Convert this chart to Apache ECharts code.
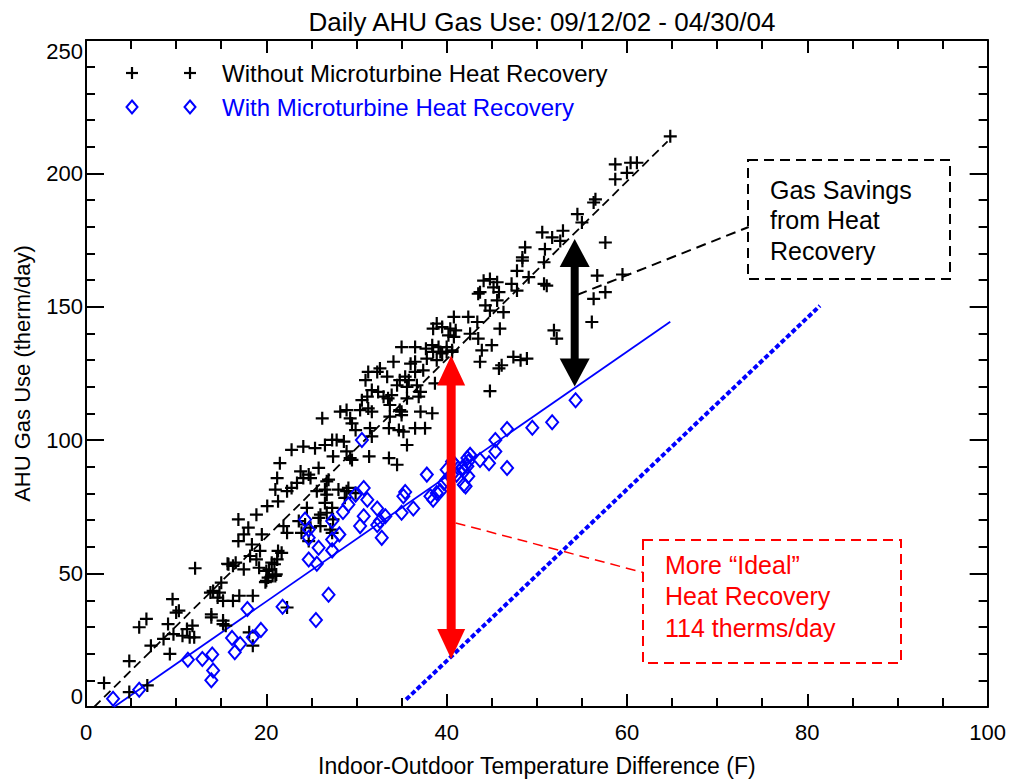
<!DOCTYPE html>
<html><head><meta charset="utf-8">
<script src="https://cdn.jsdelivr.net/npm/echarts@6/dist/echarts.min.js"></script>
<style>html,body{margin:0;padding:0;background:#fff}#c{width:1009px;height:782px}</style>
</head><body><div id="c"></div>
<script>
const titleText = 'Daily AHU Gas Use: 09/12/02 - 04/30/04';
const xName = 'Indoor-Outdoor Temperature Difference (F)';
const yName = 'AHU Gas Use (therm/day)';
const seriesNames = ['Without Microturbine Heat Recovery', 'With Microturbine Heat Recovery'];

const withoutHR = [
[2.0,9.0],[4.8,5.6],[6.8,8.1],[4.8,17.2],[5.9,29.9],[6.7,33.0],[7.2,23.0],[8.6,25.5],[9.1,31.1],[9.3,19.9],[9.6,40.4],[10.0,35.4],[10.3,36.1],[9.7,27.3],[10.7,26.7],[11.5,26.1],[12.0,26.1],[11.8,30.5],[11.2,29.2],[12.1,52.0],
[13.8,42.9],[14.1,43.5],[14.8,42.9],[14.6,41.0],[15.2,39.8],[16.3,39.8],[17.0,41.7],[18.5,41.7],[15.0,46.6],[15.7,53.7],[16.6,54.1],[13.9,34.7],[13.9,33.6],[15.2,31.1],[15.5,30.5],[18.1,28.0],[18.5,23.0],[15.2,32.4],
[15.8,53.5],[16.3,52.9],[17.5,51.6],[19.2,52.2],[20.0,51.0],[20.3,51.6],[20.9,53.5],[20.2,48.5],[21.1,49.7],[20.0,47.3],[20.7,49.1],[19.9,46.8],[21.0,49.1],
[18.2,56.6],[18.9,55.3],[21.2,55.3],[20.6,54.1],[18.4,60.9],[19.3,58.5],[21.3,58.5],[21.7,57.8],[17.5,64.7],[16.9,62.2],[19.5,64.7],[18.0,67.2],[16.9,70.3],[18.9,72.1],[20.1,75.3],[21.3,77.1],[21.9,67.8],[22.3,65.3],[22.3,37.3],
[23.9,65.3],[24.9,67.2],[26.0,67.8],[24.7,62.2],[23.6,69.7],[25.8,70.9],[26.7,72.8],[27.4,70.3],[24.5,74.6],[26.5,76.5],[28.7,78.4],[21.0,81.5],[22.3,80.9],[25.6,80.9],[26.5,81.5],[28.0,81.5],[28.9,80.9],[29.9,80.2],[21.2,85.8],[24.1,85.8],[23.4,84.0],[22.8,82.1],[26.7,84.6],[26.9,85.2],[23.8,88.3],[25.8,89.6],[24.7,87.1],[21.5,91.4],[27.4,93.9],[29.5,92.6],[22.8,96.4],[24.1,97.6],[25.4,97.0],[26.5,98.2],[27.3,100.1],[27.8,100.1],[28.6,99.5],[28.9,95.8],[29.3,93.3],
[24.9,85.8],[26.7,79.6],[27.3,74.6],[26.0,72.1],[24.3,68.4],[27.1,66.5],[27.3,65.3],[29.1,82.1],
[30.6,115.0],[31.3,111.9],[31.7,110.7],[30.4,111.3],[28.2,110.7],[26.2,108.2],[28.9,111.3],[29.3,108.2],[29.5,106.3],[29.9,103.8],[31.5,104.5],[31.7,101.4],[33.6,104.5],[34.7,103.8],[36.5,104.5],[37.6,104.5],[35.6,98.2],[31.4,93.9],[33.6,93.3],[34.5,90.8],
[31.7,118.8],[32.4,118.1],[31.2,116.3],[33.0,116.3],[33.5,115.7],[33.9,116.9],[35.6,115.7],[36.9,116.3],[37.1,118.1],[33.7,113.2],[34.8,111.3],[35.0,109.4],[33.7,108.8],[37.1,110.7],[38.4,110.1],[35.0,110.7],[35.2,103.2],
[34.8,122.5],[35.4,123.8],[35.8,122.5],[34.5,120.6],[35.6,120.0],[36.7,120.6],[38.7,121.3],[32.6,126.9],[32.3,125.6],[31.3,125.6],[33.4,123.8],[31.0,122.5],[34.1,129.4],[36.0,128.7],[36.5,129.4],[37.4,126.2],[36.5,125.6],
[37.8,130.6],[38.5,133.1],[39.3,133.1],[40.0,133.1],[40.6,133.1],[38.9,130.0],[35.0,134.9],[36.5,134.9],[37.7,134.3],[38.4,135.6],[39.1,134.9],[40.0,134.9],[40.6,133.7],[39.5,132.5],
[38.9,143.7],[38.5,141.8],[39.5,142.4],[40.4,141.8],[41.0,141.2],[40.2,139.3],[40.8,138.7],[40.8,146.2],[42.4,146.2],[43.4,144.3],[42.6,139.9],[43.5,138.1],
[44.1,159.8],[44.8,160.4],[45.6,159.2],[45.2,157.3],[45.8,155.5],[47.2,158.6],[47.8,156.1],[43.7,155.5],[43.5,154.9],[50.8,158.6],[51.1,157.9],[44.3,150.5],[44.8,148.6],[46.3,148.0],[45.6,152.4],[45.9,141.8],[43.9,133.7],[45.0,135.6],[43.7,129.4],[45.8,126.9],[46.1,128.1],[47.4,131.2],[48.2,130.0],[48.9,130.6],[51.9,141.2],[52.2,138.1],[44.8,118.4],
[48.4,167.3],[47.8,163.5],[49.1,161.1],[50.8,166.7],[48.7,172.3],[50.9,171.6],[48.4,168.5],
[50.6,177.9],[51.7,176.0],[52.9,178.5],[52.6,174.7],[54.5,184.7],[55.0,181.6],[56.5,190.3],[56.3,189.1],[58.7,203.4],[60.4,204.0],[61.1,204.0],[60.0,200.2],[58.7,197.8],[64.8,213.9],[57.6,174.1],[56.7,161.7],[59.5,162.1],[56.3,153.0],[57.6,155.5],[56.1,144.3]
];

const withHR = [
[3.0,3.1],[5.9,6.5],[11.3,17.7],[12.9,18.0],[14.0,19.7],[14.1,13.7],[13.9,10.0],[16.2,25.9],[17.1,23.6],[16.5,20.5],[17.9,36.7],[18.5,26.1],[19.4,28.9],[21.8,37.6],
[25.5,32.6],[26.9,42.1],[24.7,55.3],[25.6,53.7],[25.8,59.7],[27.3,58.7],[27.3,62.8],[28.1,64.7],[27.3,69.7],[24.3,70.3],[24.7,66.5],[24.7,63.4],[28.5,73.1],[29.1,75.9],[30.8,71.5],[30.4,67.8],[30.8,82.1],[31.2,77.7],[29.9,79.6],[30.6,100.1],
[32.3,74.4],[33.2,71.5],[32.6,69.7],[32.3,68.2],[32.8,63.4],[35.2,79.0],[35.4,80.6],[36.3,74.4],[35.0,72.8],[37.8,87.1],[38.2,79.0],[38.5,77.7],[38.9,80.2],[39.3,80.9],[40.0,85.2],[39.7,84.0],[40.6,87.1],[40.8,91.4],[41.1,87.1],[41.9,88.3],[42.3,90.2],[41.9,83.3],[42.3,93.3],[43.7,92.6],[42.6,94.5],[42.4,92.0],[42.1,90.8],[41.7,89.6],[40.6,92.0],[40.0,88.9],[42.4,86.5],[42.1,82.7],
[44.7,91.4],[46.7,89.6],[45.4,95.8],[45.4,100.1],[46.7,104.2],[49.5,104.7],[51.7,106.7],[54.3,115.0]
];

const fitWithout = [[0.9,0],[64.5,212]];
const fitWith = [[3.1,0],[64.8,144.4]];
const fitIdeal = [[35.5,2.8],[81.4,150.4]];

const arrowX = [40.5, 54.2];
const arrowTop = [131.7, 175.4];
const arrowBottom = [18.0, 120.1];

const leaderSavings = [[54.5,154.5],[73.5,179.9]];
const leaderIdeal = [[41.0,69.0],[61.8,50.4]];

const noteSavings = ['Gas Savings', 'from Heat', 'Recovery'];
const noteIdeal = ['More \u201CIdeal\u201D', 'Heat Recovery', '114 therms/day'];

const FONT = '"Liberation Sans", Arial, Helvetica, sans-serif';
const BLUE = '#0000ff', RED = '#ff0000', BLACK = '#000000';
const arrowStyles = [
  {color: RED, hw: 14, hh: 30, sw: 9},
  {color: BLACK, hw: 15, hh: 28, sw: 8}
];

const chart = echarts.init(document.getElementById('c'), null, {renderer: 'svg'});

function baseAxis(extra) {
  return Object.assign({
    type: 'value',
    axisLine: {show: true, onZero: false, lineStyle: {color: BLACK, width: 2}},
    axisTick: {show: true, inside: true, lineStyle: {color: BLACK, width: 2}},
    minorTick: {show: true, lineStyle: {color: BLACK, width: 2}},
    splitLine: {show: false},
    minorSplitLine: {show: false}
  }, extra);
}

const plusPath = 'path://M0,6L12,6M6,0L6,12';

const legendGraphics = [];
function plusAt(x, y) {
  legendGraphics.push({type:'line', shape:{x1:x-6,y1:y,x2:x+6,y2:y}, style:{stroke:BLACK, lineWidth:2.2}});
  legendGraphics.push({type:'line', shape:{x1:x,y1:y-6,x2:x,y2:y+6}, style:{stroke:BLACK, lineWidth:2.2}});
}
function diamondAt(x, y) {
  legendGraphics.push({type:'polygon', shape:{points:[[x,y-6.5],[x+5.5,y],[x,y+6.5],[x-5.5,y]]}, style:{stroke:BLUE, fill:'none', lineWidth:2}});
}
plusAt(132, 73); plusAt(190, 73);
diamondAt(132, 107); diamondAt(190, 107);
legendGraphics.push({type:'text', left:222, top:61, style:{text:seriesNames[0], fill:BLACK, font:'24px ' + FONT}});
legendGraphics.push({type:'text', left:222, top:95, style:{text:seriesNames[1], fill:BLUE, font:'24px ' + FONT}});

// annotation boxes
legendGraphics.push({type:'rect', shape:{x:748, y:160, width:202, height:119}, style:{stroke:BLACK, fill:'none', lineWidth:2, lineDash:[10,6]}});
noteSavings.forEach((t, i) => legendGraphics.push({type:'text', left:770, top:177 + i*30.5, style:{text:t, fill:BLACK, font:'25px ' + FONT}}));
legendGraphics.push({type:'rect', shape:{x:643, y:540, width:258, height:123}, style:{stroke:RED, fill:'none', lineWidth:2, lineDash:[10,6]}});
noteIdeal.forEach((t, i) => legendGraphics.push({type:'text', left:665, top:552 + i*31.5, style:{text:t, fill:RED, font:'25px ' + FONT}}));

const option = {
  animation: false,
  backgroundColor: '#ffffff',
  title: {
    text: titleText, left: 537, top: 4, textAlign: 'center',
    textStyle: {fontFamily: FONT, fontSize: 26, fontWeight: 'normal', color: BLACK}
  },
  grid: {left: 86, right: 21, top: 40, bottom: 72, containLabel: false},
  xAxis: [
    baseAxis({
      min: 0, max: 100, interval: 20, position: 'bottom',
      name: xName, nameLocation: 'middle', nameGap: 47,
      nameTextStyle: {fontFamily: FONT, fontSize: 23, color: BLACK},
      axisTick: {show: true, inside: true, length: 13, lineStyle: {color: BLACK, width: 2}},
      minorTick: {show: true, splitNumber: 4, length: 9, lineStyle: {color: BLACK, width: 2}},
      axisLabel: {show: true, margin: 14, fontFamily: FONT, fontSize: 22, color: BLACK}
    }),
    baseAxis({
      min: 0, max: 100, interval: 20, position: 'top',
      axisTick: {show: true, inside: true, length: 13, lineStyle: {color: BLACK, width: 2}},
      minorTick: {show: true, splitNumber: 4, length: 9, lineStyle: {color: BLACK, width: 2}},
      axisLabel: {show: false}
    })
  ],
  yAxis: [
    baseAxis({
      min: 0, max: 250, interval: 50, position: 'left',
      name: yName, nameLocation: 'middle', nameGap: 53,
      nameTextStyle: {fontFamily: FONT, fontSize: 22, color: BLACK},
      axisTick: {show: true, inside: true, length: 18, lineStyle: {color: BLACK, width: 2}},
      minorTick: {show: true, splitNumber: 5, length: 9, lineStyle: {color: BLACK, width: 2}},
      axisLabel: {show: true, margin: 3, fontFamily: FONT, fontSize: 22, color: BLACK,
        verticalAlignMinLabel: 'bottom', verticalAlignMaxLabel: 'top'}
    }),
    baseAxis({
      min: 0, max: 250, interval: 50, position: 'right',
      axisTick: {show: true, inside: true, length: 18, lineStyle: {color: BLACK, width: 2}},
      minorTick: {show: true, splitNumber: 5, length: 9, lineStyle: {color: BLACK, width: 2}},
      axisLabel: {show: false}
    })
  ],
  series: [
    {
      name: 'fitWithout', type: 'line', data: fitWithout, showSymbol: false, silent: true, z: 3,
      lineStyle: {color: BLACK, width: 1.8, type: [9, 5]}
    },
    {
      name: 'fitWith', type: 'line', data: fitWith, showSymbol: false, silent: true, z: 3,
      lineStyle: {color: BLUE, width: 1.8, type: 'solid'}
    },
    {
      name: 'fitIdeal', type: 'line', data: fitIdeal, showSymbol: false, silent: true, z: 3,
      lineStyle: {color: BLUE, width: 4, type: [5, 2.5], cap: 'butt'}
    },
    {
      name: seriesNames[0], type: 'scatter', data: withoutHR, symbol: plusPath, symbolSize: 13, z: 4,
      itemStyle: {color: 'rgba(0,0,0,0)', borderColor: BLACK, borderWidth: 2.2, opacity: 1},
      emphasis: {disabled: true}
    },
    {
      name: seriesNames[1], type: 'scatter', data: withHR, symbol: 'diamond', symbolSize: [12, 14], z: 5,
      itemStyle: {color: 'rgba(0,0,0,0)', borderColor: BLUE, borderWidth: 2, opacity: 1},
      emphasis: {disabled: true}
    },
    {
      name: 'leaderSavings', type: 'line', data: leaderSavings, showSymbol: false, silent: true, z: 6,
      lineStyle: {color: BLACK, width: 2, type: [10, 6]}
    },
    {
      name: 'leaderIdeal', type: 'line', data: leaderIdeal, showSymbol: false, silent: true, z: 6,
      lineStyle: {color: RED, width: 1.5, type: [10, 6]}
    },
    {
      name: 'arrows', type: 'custom', z: 7, silent: true,
      data: arrowX.map((x, i) => [x, arrowTop[i], arrowBottom[i], i]),
      renderItem: function (params, api) {
        const x = api.value(0);
        const t = api.coord([x, api.value(1)]);
        const b = api.coord([x, api.value(2)]);
        const s = arrowStyles[api.value(3)];
        const cx = t[0];
        return {
          type: 'group',
          children: [
            {type: 'rect', shape: {x: cx - s.sw / 2, y: t[1] + s.hh - 1, width: s.sw, height: b[1] - t[1] - 2 * s.hh + 2}, style: {fill: s.color}},
            {type: 'polygon', shape: {points: [[cx - s.hw, t[1] + s.hh], [cx, t[1]], [cx + s.hw, t[1] + s.hh]]}, style: {fill: s.color}},
            {type: 'polygon', shape: {points: [[cx - s.hw, b[1] - s.hh], [cx, b[1]], [cx + s.hw, b[1] - s.hh]]}, style: {fill: s.color}}
          ]
        };
      }
    }
  ],
  graphic: legendGraphics
};
chart.setOption(option);
</script>
</body></html>
